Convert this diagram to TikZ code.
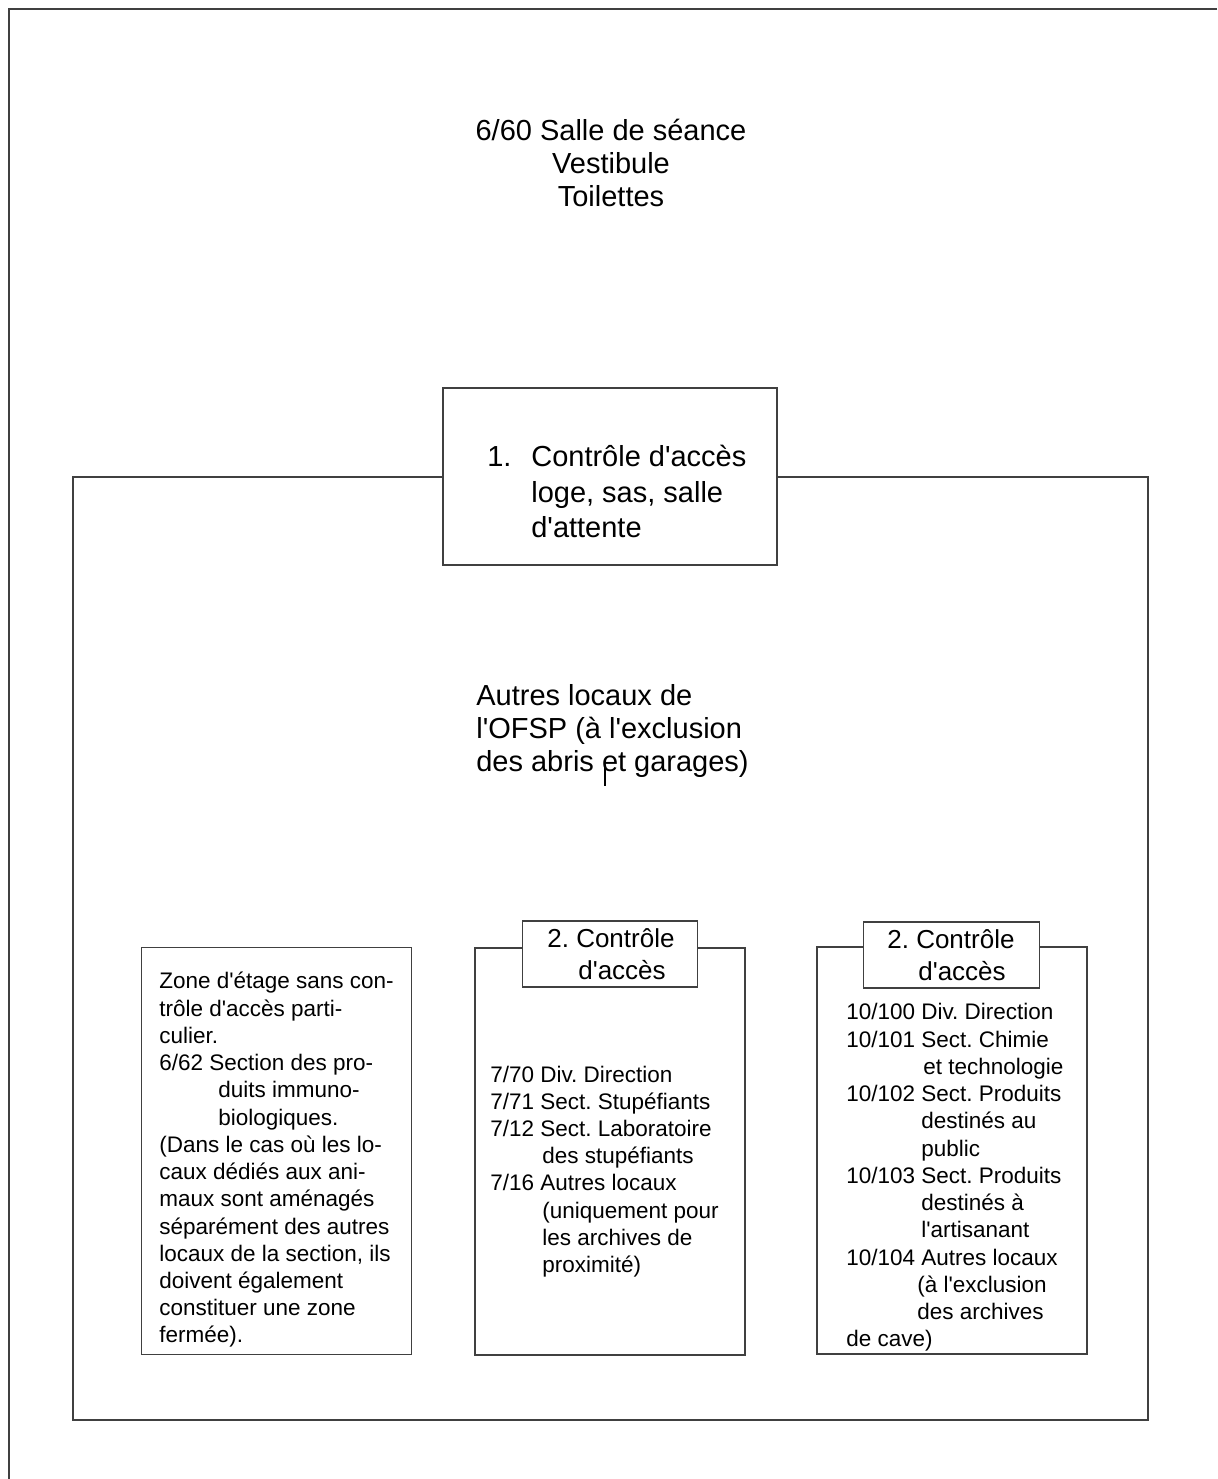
\documentclass[tikz,border=0pt]{standalone}
\usepackage{fontspec}
\setmainfont{Liberation Sans}[Ligatures=TeXOff]
\usetikzlibrary{positioning}
\frenchspacing
\begin{document}
\begin{tikzpicture}[x=0.02cm, y=-0.02cm,
    wall/.style={draw=black!75, line width=0.8pt},
    room/.style={wall, fill=white, inner sep=0pt, minimum width=5.4cm, minimum height=8.14cm},
    tag/.style={wall, fill=white, inner sep=0pt, minimum width=3.51cm, minimum height=1.32cm},
    big/.style={font=\fontsize{16.5}{19}\selectfont, inner sep=0pt},
    tagtext/.style={font=\fontsize{14.8}{18}\selectfont, inner sep=0pt, align=left, anchor=west},
    small/.style={font=\fontsize{12.8}{15.5}\selectfont, inner sep=0pt, align=left, anchor=west}]
    \useasboundingbox (0,0) rectangle (1217,1479);

    %% Outer building and OFSP zone
    \draw [wall] (1217,9) -- (9,9) -- (9,1479);
    \node [wall, inner sep=0pt, minimum width=21.5cm, minimum height=18.86cm] (ofsp) at (610.5,948.5) {};
    \node [big, align=center] (salle) at (611,163) {6/60 Salle de séance\\Vestibule\\Toilettes};

    %% Access control 1
    \node [wall, fill=white, inner sep=0pt, minimum width=6.68cm, minimum height=3.54cm] (loge) at (610,476.5) {};
    \node [big, anchor=west, align=left, font=\fontsize{16.5}{20.4}\selectfont] (logetxt) at (487,491.5) {\makebox[0.88cm][l]{1.}Contrôle d'accès\\\hspace*{0.88cm}loge, sas, salle\\\hspace*{0.88cm}d'attente};
    \node [big, anchor=west, align=left] (autres) at (476,731) {Autres locaux de\\l'OFSP (à l'exclusion\\des abris et garages)};
    \draw [line width=1.2pt] (605,765) -- (605,786);

    %% Rooms
    \node [room] (etage) at (276.5,1151) {};
    \node [small] (etagetxt) at (159,1160) {Zone d'étage sans con-\\trôle d'accès parti-\\culier.\\6/62 Section des pro-\\\hspace*{1.18cm}duits immuno-\\\hspace*{1.18cm}biologiques.\\(Dans le cas où les lo-\\caux dédiés aux ani-\\maux sont aménagés\\séparément des autres\\locaux de la section, ils\\doivent également\\constituer une zone\\fermée).};

    \node [room] (stup) at (610,1151.5) {};
    \node [tag] (stuptag) at (610,954) {};
    \node [tagtext] (stuptagtxt) at (547,954) {2. Contrôle\\\hspace*{0.62cm}d'accès};
    \node [small] (stuptxt) at (490,1171.5) {7/70 Div. Direction\\7/71 Sect. Stupéfiants\\7/12 Sect. Laboratoire\\\hspace*{1.04cm}des stupéfiants\\7/16 Autres locaux\\\hspace*{1.04cm}(uniquement pour\\\hspace*{1.04cm}les archives de\\\hspace*{1.04cm}proximité)};

    \node [room] (chim) at (952,1150.5) {};
    \node [tag] (chimtag) at (951.5,955) {};
    \node [tagtext] (chimtagtxt) at (887,955) {2. Contrôle\\\hspace*{0.62cm}d'accès};
    \node [small] (chimtxt) at (846,1177.5) {10/100 Div. Direction\\10/101 Sect. Chimie\\\hspace*{1.54cm}et technologie\\10/102 Sect. Produits\\\hspace*{1.5cm}destinés au\\\hspace*{1.5cm}public\\10/103 Sect. Produits\\\hspace*{1.5cm}destinés à\\\hspace*{1.5cm}l'artisanant\\10/104 Autres locaux\\\hspace*{1.42cm}(à l'exclusion\\\hspace*{1.42cm}des archives\\de cave)};
\end{tikzpicture}
\end{document}
